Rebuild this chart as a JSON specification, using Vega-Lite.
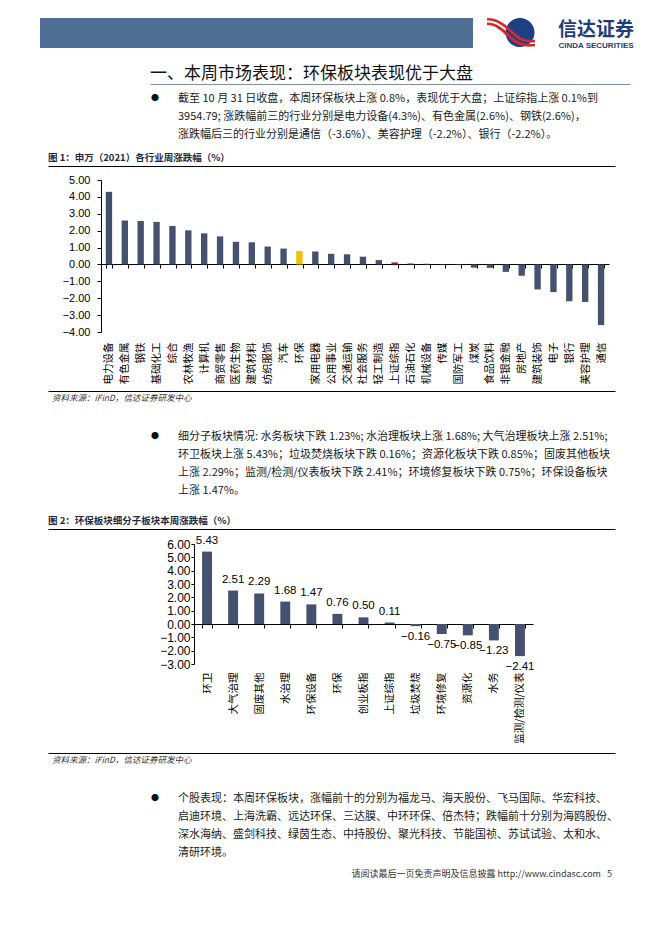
{
  "$schema": "https://vega.github.io/schema/vega-lite/v6.json",
  "padding": {"left": 40, "top": 17, "right": 0, "bottom": 0},
  "background": "white",
  "spacing": 0,
  "config": {"view": {"stroke": null}, "font": "Noto Sans CJK SC", "text": {"font": "Noto Sans CJK SC"}},
  "vconcat": [
    {"hconcat": [
      {"width": 433, "height": 30, "view": {"fill": "#4f6f97", "stroke": null}, "data": {"values": []}, "mark": "text"},
      {"width": 78, "height": 30, "data": {"values": [{"k": 1}]}, "layer": [
        {"mark": {"type": "point", "shape": "M -0.26 -0.02 A 0.58 0.58 0 1 0 0.9 -0.02 A 0.58 0.58 0 1 0 -0.26 -0.02 Z", "filled": true, "size": 2500, "color": "#1e3f84", "opacity": 1}, "encoding": {}},
        {"mark": {"type": "point", "shape": "M -1 -0.6 C -0.55 -0.62 -0.2 -0.3 0.1 -0.02 C 0.35 0.22 0.6 0.3 0.92 0.27 L 0.92 0.37 C 0.55 0.41 0.3 0.32 0.02 0.06 C -0.3 -0.24 -0.6 -0.52 -1 -0.5 Z", "filled": true, "size": 2500, "color": "#d42a2f", "opacity": 1}, "encoding": {}},
        {"mark": {"type": "point", "shape": "M -1 -0.42 C -0.6 -0.42 -0.35 -0.18 -0.08 0.08 C 0.2 0.36 0.5 0.48 0.92 0.43 L 0.92 0.53 C 0.45 0.6 0.15 0.46 -0.15 0.18 C -0.45 -0.1 -0.65 -0.32 -1 -0.32 Z", "filled": true, "size": 2500, "color": "#d42a2f", "opacity": 1}, "encoding": {}}
      ]},
      {"spacing": 0, "vconcat": [
        {"width": 90, "height": 21, "data": {"values": [{"t": "信达证券"}]}, "mark": {"type": "text", "fontSize": 19, "fontWeight": "bold", "color": "#1d3d7c", "baseline": "middle", "dy": 1}, "encoding": {"text": {"field": "t"}}},
        {"width": 90, "height": 9, "data": {"values": [{"t": "CINDA SECURITIES"}]}, "mark": {"type": "text", "font": "Liberation Sans", "fontSize": 8, "fontWeight": "bold", "color": "#1d3d7c", "baseline": "middle", "dy": 1}, "encoding": {"text": {"field": "t"}}}
      ]}
    ], "spacing": 0},
    {"hconcat": [
      {"width": 110, "height": 34, "data": {"values": []}, "mark": "text"},
      {"width": 480, "height": 34, "data": {"values": [{"t": "一、本周市场表现：环保板块表现优于大盘"}]},
        "mark": {"type": "text", "align": "left", "baseline": "middle", "dy": 7, "fontSize": 17, "color": "#111111"},
        "encoding": {"x": {"datum": 0, "type": "quantitative", "scale": {"domain": [0, 1]}, "axis": {"title": null, "labels": false, "ticks": false, "grid": false, "domainColor": "#7f8fa9", "domainWidth": 1}}, "text": {"field": "t"}}}
    ], "spacing": 0},
    {"width": 1, "height": 6, "data": {"values": []}, "mark": "text"},
    {"hconcat": [
      {"width": 101, "height": 10, "data": {"values": []}, "mark": "text"},
      {"width": 28, "height": 54, "data": {"values": [{"i": 1, "t": "●"}]}, "mark": {"type": "text", "baseline": "middle", "fontSize": 8, "color": "#111111"}, "encoding": {"y": {"field": "i", "type": "ordinal", "scale": {"domain": [1, 2, 3]}, "axis": null}, "text": {"field": "t"}}},
      {"width": 9, "height": 10, "data": {"values": []}, "mark": "text"},
      {"width": 437, "height": 54, "data": {"values": [
        {"i": 1, "t": "截至 10 月 31 日收盘，本周环保板块上涨 0.8%，表现优于大盘；上证综指上涨 0.1%到"},
        {"i": 2, "t": "3954.79; 涨跌幅前三的行业分别是电力设备(4.3%)、有色金属(2.6%)、钢铁(2.6%)，"},
        {"i": 3, "t": "涨跌幅后三的行业分别是通信（-3.6%）、美容护理（-2.2%）、银行（-2.2%）。"}
      ]}, "mark": {"type": "text", "align": "left", "baseline": "middle", "fontSize": 11, "color": "#1a1a1a"}, "encoding": {"x": {"value": 0}, "y": {"field": "i", "type": "ordinal", "axis": null}, "text": {"field": "t"}}}
    ], "spacing": 0},
    {"width": 1, "height": 4, "data": {"values": []}, "mark": "text"},
    {"hconcat": [
      {"width": 8, "height": 18, "data": {"values": []}, "mark": "text"},
      {"width": 567, "height": 18, "data": {"values": [{"t": "图 1：申万（2021）各行业周涨跌幅（%）"}]},
        "mark": {"type": "text", "align": "left", "baseline": "middle", "dy": 1, "fontSize": 9.5, "fontWeight": "bold", "color": "#1f2a44"},
        "encoding": {"x": {"datum": 0, "type": "quantitative", "scale": {"domain": [0, 1]}, "axis": {"title": null, "labels": false, "ticks": false, "grid": false, "domainColor": "#000000", "domainWidth": 1}}, "text": {"field": "t"}}}
    ], "spacing": 0},
    {"width": 1, "height": 8, "data": {"values": []}, "mark": "text"},
    {"hconcat": [
      {"width": 22, "height": 10, "data": {"values": []}, "mark": "text"},
      {"width": 508, "height": 152,
        "data": {"values": [
          {"name": "电力设备", "v": 4.3}, {"name": "有色金属", "v": 2.6}, {"name": "钢铁", "v": 2.57}, {"name": "基础化工", "v": 2.52},
          {"name": "综合", "v": 2.28}, {"name": "农林牧渔", "v": 2.02}, {"name": "计算机", "v": 1.84}, {"name": "商贸零售", "v": 1.66},
          {"name": "医药生物", "v": 1.34}, {"name": "建筑材料", "v": 1.31}, {"name": "纺织服饰", "v": 1.06}, {"name": "汽车", "v": 0.94},
          {"name": "环保", "v": 0.8}, {"name": "家用电器", "v": 0.77}, {"name": "公用事业", "v": 0.63}, {"name": "交通运输", "v": 0.6},
          {"name": "社会服务", "v": 0.46}, {"name": "轻工制造", "v": 0.26}, {"name": "上证综指", "v": 0.12}, {"name": "石油石化", "v": 0.06},
          {"name": "机械设备", "v": 0.04}, {"name": "传媒", "v": -0.02}, {"name": "国防军工", "v": -0.04}, {"name": "煤炭", "v": -0.19},
          {"name": "食品饮料", "v": -0.2}, {"name": "非银金融", "v": -0.44}, {"name": "房地产", "v": -0.67}, {"name": "建筑装饰", "v": -1.48},
          {"name": "电子", "v": -1.64}, {"name": "银行", "v": -2.18}, {"name": "美容护理", "v": -2.22}, {"name": "通信", "v": -3.59}
        ]},
        "mark": {"type": "bar"},
        "encoding": {
          "x": {"field": "name", "type": "nominal", "sort": null, "scale": {"paddingInner": 0.6, "paddingOuter": 0.3},
            "axis": {"title": null, "orient": "bottom", "offset": -68, "tickSize": 4, "tickBand": "extent", "labelPadding": 74, "labelAngle": -90, "labelFontSize": 10.5, "labelColor": "#000000", "domainColor": "#000000", "tickColor": "#000000", "labelOverlap": false, "grid": false}},
          "y": {"field": "v", "type": "quantitative", "scale": {"domain": [-4, 5], "nice": false},
            "axis": {"title": null, "values": [-4, -3, -2, -1, 0, 1, 2, 3, 4, 5], "format": ".2f", "tickSize": 4, "labelPadding": 7, "labelFont": "Liberation Sans", "labelFontSize": 11, "labelColor": "#000000", "domainColor": "#000000", "tickColor": "#000000", "grid": false}},
          "color": {"condition": [{"test": "datum.name === '环保'", "value": "#f5be00"}, {"test": "datum.name === '上证综指'", "value": "#c0161d"}], "value": "#46506f"}
        }}
    ], "spacing": 0},
    {"width": 1, "height": 7, "data": {"values": []}, "mark": "text"},
    {"hconcat": [
      {"width": 8, "height": 14, "data": {"values": []}, "mark": "text"},
      {"width": 567, "height": 14, "data": {"values": [{"t": "资料来源：iFinD，信达证券研发中心"}]},
        "mark": {"type": "text", "align": "left", "baseline": "middle", "dx": 4, "fontSize": 8.5, "fontStyle": "italic", "color": "#333333"},
        "encoding": {"x": {"datum": 0, "type": "quantitative", "scale": {"domain": [0, 1]}, "axis": {"title": null, "orient": "top", "labels": false, "ticks": false, "grid": false, "domainColor": "#000000", "domainWidth": 1}}, "text": {"field": "t"}}}
    ], "spacing": 0},
    {"width": 1, "height": 23, "data": {"values": []}, "mark": "text"},
    {"hconcat": [
      {"width": 101, "height": 10, "data": {"values": []}, "mark": "text"},
      {"width": 28, "height": 72, "data": {"values": [{"i": 1, "t": "●"}]}, "mark": {"type": "text", "baseline": "middle", "fontSize": 8, "color": "#111111"}, "encoding": {"y": {"field": "i", "type": "ordinal", "scale": {"domain": [1, 2, 3, 4]}, "axis": null}, "text": {"field": "t"}}},
      {"width": 9, "height": 10, "data": {"values": []}, "mark": "text"},
      {"width": 437, "height": 72, "data": {"values": [
        {"i": 1, "t": "细分子板块情况: 水务板块下跌 1.23%; 水治理板块上涨 1.68%; 大气治理板块上涨 2.51%;"},
        {"i": 2, "t": "环卫板块上涨 5.43%；垃圾焚烧板块下跌 0.16%；资源化板块下跌 0.85%；固废其他板块"},
        {"i": 3, "t": "上涨 2.29%；监测/检测/仪表板块下跌 2.41%；环境修复板块下跌 0.75%；环保设备板块"},
        {"i": 4, "t": "上涨 1.47%。"}
      ]}, "mark": {"type": "text", "align": "left", "baseline": "middle", "fontSize": 11, "color": "#1a1a1a"}, "encoding": {"x": {"value": 0}, "y": {"field": "i", "type": "ordinal", "axis": null}, "text": {"field": "t"}}}
    ], "spacing": 0},
    {"width": 1, "height": 11, "data": {"values": []}, "mark": "text"},
    {"hconcat": [
      {"width": 8, "height": 18, "data": {"values": []}, "mark": "text"},
      {"width": 567, "height": 18, "data": {"values": [{"t": "图 2：环保板块细分子板块本周涨跌幅（%）"}]},
        "mark": {"type": "text", "align": "left", "baseline": "middle", "dy": 1, "fontSize": 9.5, "fontWeight": "bold", "color": "#1f2a44"},
        "encoding": {"x": {"datum": 0, "type": "quantitative", "scale": {"domain": [0, 1]}, "axis": {"title": null, "labels": false, "ticks": false, "grid": false, "domainColor": "#000000", "domainWidth": 1}}, "text": {"field": "t"}}}
    ], "spacing": 0},
    {"width": 1, "height": 5, "data": {"values": []}, "mark": "text"},
    {"hconcat": [
      {"width": 119, "height": 10, "data": {"values": []}, "mark": "text"},
      {"width": 339, "height": 120,
        "data": {"values": [
          {"name": "环卫", "v": 5.43}, {"name": "大气治理", "v": 2.51}, {"name": "固废其他", "v": 2.29}, {"name": "水治理", "v": 1.68},
          {"name": "环保设备", "v": 1.47}, {"name": "环保", "v": 0.76}, {"name": "创业板指", "v": 0.5}, {"name": "上证综指", "v": 0.11},
          {"name": "垃圾焚烧", "v": -0.16}, {"name": "环境修复", "v": -0.75}, {"name": "资源化", "v": -0.85}, {"name": "水务", "v": -1.23},
          {"name": "监测/检测/仪表", "v": -2.41}
        ]},
        "encoding": {
          "x": {"field": "name", "type": "nominal", "sort": null, "scale": {"paddingInner": 0.62, "paddingOuter": 0.31},
            "axis": {"title": null, "orient": "bottom", "offset": -40, "tickSize": 4, "tickBand": "extent", "labelPadding": 44, "labelAngle": -90, "labelFontSize": 10.5, "labelColor": "#000000", "domainColor": "#000000", "tickColor": "#000000", "labelOverlap": false, "grid": false}},
          "y": {"field": "v", "type": "quantitative", "scale": {"domain": [-3, 6], "nice": false},
            "axis": {"title": null, "values": [-3, -2, -1, 0, 1, 2, 3, 4, 5, 6], "format": ".2f", "tickSize": 3, "labelPadding": 1, "labelFont": "Liberation Sans", "labelFontSize": 12, "labelColor": "#000000", "domainColor": "#000000", "tickColor": "#000000", "grid": false}}
        },
        "layer": [
          {"mark": {"type": "bar", "color": "#46506f"}},
          {"transform": [{"filter": "datum.v >= 0"}], "mark": {"type": "text", "baseline": "middle", "dy": -11, "font": "Liberation Sans", "fontSize": 11.5, "color": "#000000"}, "encoding": {"text": {"field": "v", "type": "quantitative", "format": ".2f"}}},
          {"transform": [{"filter": "datum.v < 0"}], "mark": {"type": "text", "baseline": "middle", "dy": 11, "font": "Liberation Sans", "fontSize": 11.5, "color": "#000000"}, "encoding": {"text": {"field": "v", "type": "quantitative", "format": ".2f"}}}
        ]}
    ], "spacing": 0},
    {"width": 1, "height": 9, "data": {"values": []}, "mark": "text"},
    {"hconcat": [
      {"width": 8, "height": 14, "data": {"values": []}, "mark": "text"},
      {"width": 567, "height": 14, "data": {"values": [{"t": "资料来源：iFinD，信达证券研发中心"}]},
        "mark": {"type": "text", "align": "left", "baseline": "middle", "dx": 4, "fontSize": 8.5, "fontStyle": "italic", "color": "#333333"},
        "encoding": {"x": {"datum": 0, "type": "quantitative", "scale": {"domain": [0, 1]}, "axis": {"title": null, "orient": "top", "labels": false, "ticks": false, "grid": false, "domainColor": "#000000", "domainWidth": 1}}, "text": {"field": "t"}}}
    ], "spacing": 0},
    {"width": 1, "height": 23, "data": {"values": []}, "mark": "text"},
    {"hconcat": [
      {"width": 101, "height": 10, "data": {"values": []}, "mark": "text"},
      {"width": 28, "height": 72, "data": {"values": [{"i": 1, "t": "●"}]}, "mark": {"type": "text", "baseline": "middle", "fontSize": 8, "color": "#111111"}, "encoding": {"y": {"field": "i", "type": "ordinal", "scale": {"domain": [1, 2, 3, 4]}, "axis": null}, "text": {"field": "t"}}},
      {"width": 9, "height": 10, "data": {"values": []}, "mark": "text"},
      {"width": 437, "height": 72, "data": {"values": [
        {"i": 1, "t": "个股表现：本周环保板块，涨幅前十的分别为福龙马、海天股份、飞马国际、华宏科技、"},
        {"i": 2, "t": "启迪环境、上海洗霸、远达环保、三达膜、中环环保、倍杰特；跌幅前十分别为海鸥股份、"},
        {"i": 3, "t": "深水海纳、盛剑科技、绿茵生态、中持股份、聚光科技、节能国祯、苏试试验、太和水、"},
        {"i": 4, "t": "清研环境。"}
      ]}, "mark": {"type": "text", "align": "left", "baseline": "middle", "fontSize": 11, "color": "#1a1a1a"}, "encoding": {"x": {"value": 0}, "y": {"field": "i", "type": "ordinal", "axis": null}, "text": {"field": "t"}}}
    ], "spacing": 0},
    {"width": 1, "height": 5, "data": {"values": []}, "mark": "text"},
    {"width": 572, "height": 14, "data": {"values": [{"t": "请阅读最后一页免责声明及信息披露 http://www.cindasc.com\u00a0\u00a0\u00a05"}]},
      "mark": {"type": "text", "align": "right", "baseline": "middle", "fontSize": 9, "color": "#333333"},
      "encoding": {"x": {"datum": 1, "type": "quantitative", "scale": {"domain": [0, 1]}, "axis": null}, "text": {"field": "t"}}}
  ]
}
